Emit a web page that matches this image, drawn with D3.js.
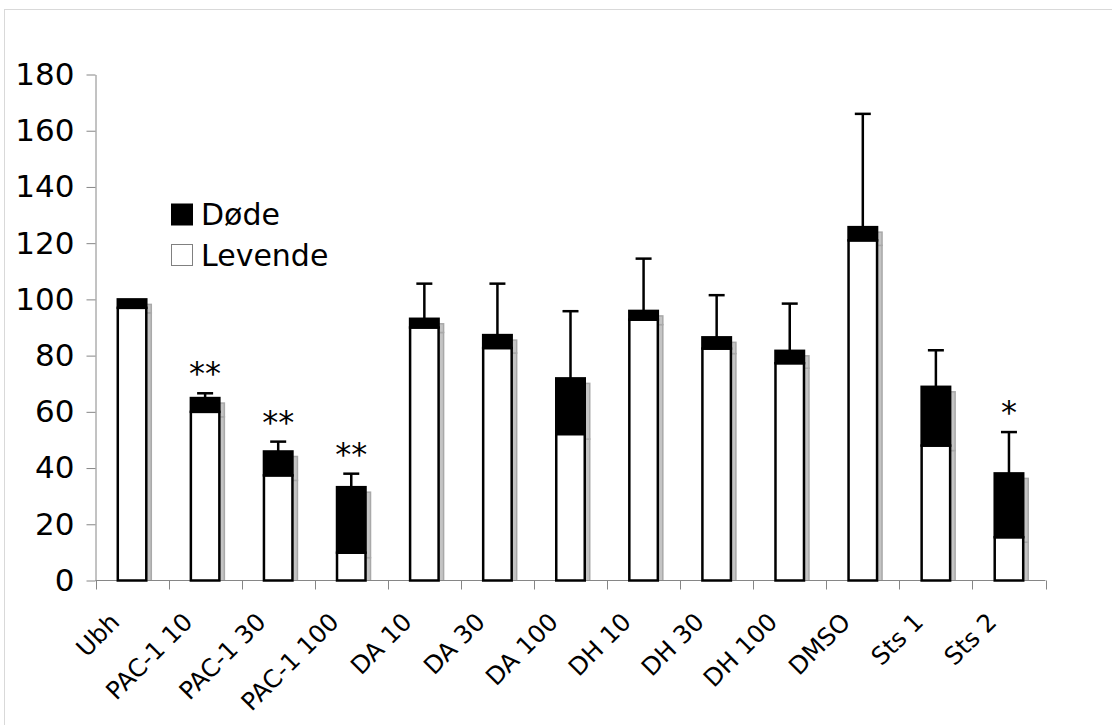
<!DOCTYPE html>
<html>
<head>
<meta charset="utf-8">
<script src="https://cdn.jsdelivr.net/npm/d3@7"></script>
<style>
  html, body { margin: 0; padding: 0; background: #fff; }
  svg { display: block; font-family: "DejaVu Sans", Verdana, sans-serif; }
</style>
</head>
<body>
<svg id="chart" width="1112" height="725"></svg>
<script>
// Cell counts per treatment (stacked: living + dead), with upper error bars
const categories = ["Ubh", "PAC-1 10", "PAC-1 30", "PAC-1 100", "DA 10", "DA 30", "DA 100",
                    "DH 10", "DH 30", "DH 100", "DMSO", "Sts 1", "Sts 2"];
const levende = [97, 60, 37.4, 9.9, 90, 82.7, 52.1, 92.8, 82.5, 77.3, 121, 48, 15.4];
const dode    = [3, 4.9, 8.5, 23.3, 3.1, 4.6, 19.8, 3.1, 4.0, 4.4, 4.7, 20.9, 22.7];
const errors  = [0, 1.7, 3.5, 4.8, 12.5, 18.3, 23.9, 18.6, 15.0, 16.8, 40.3, 13.0, 14.7];
const signif  = ["", "**", "**", "**", "", "", "", "", "", "", "", "", "*"];
const yTicks  = [0, 20, 40, 60, 80, 100, 120, 140, 160, 180];
const seriesNames = ["Døde", "Levende"];

const svg = d3.select("#chart");

// outer chart-area frame
svg.append("rect")
  .attr("x", 4.5).attr("y", 9.5).attr("width", 1200).attr("height", 800)
  .attr("fill", "none").attr("stroke", "#d9d9d9");

const x = d3.scaleBand().domain(categories).range([95.5, 1045.5]);
const y = d3.scaleLinear().domain([0, 180]).range([580.5, 74.5]);

const bw = x.bandwidth() * 0.39;
const cx = c => x(c) + x.bandwidth() / 2;

const rows = categories.map((c, i) => ({
  cat: c, live: levende[i], dead: dode[i], total: levende[i] + dode[i],
  err: errors[i], sig: signif[i]
}));

// shadows behind each stacked segment
const defs = svg.append("defs");
defs.append("clipPath").attr("id", "plotClip")
  .append("rect").attr("x", 0).attr("y", 0).attr("width", 1112).attr("height", y(0));
defs.append("filter").attr("id", "soft")
  .append("feGaussianBlur").attr("stdDeviation", 0.6);

const shadowG = svg.append("g").attr("clip-path", "url(#plotClip)")
  .attr("filter", "url(#soft)");
const sOff = 5;
rows.forEach(d => {
  shadowG.append("rect")
    .attr("x", cx(d.cat) - bw / 2 + sOff).attr("y", y(d.live) + sOff)
    .attr("width", bw).attr("height", y(0) - y(d.live))
    .attr("fill", "#c4c4c4").attr("stroke", "#a9a9a9").attr("stroke-width", 1.5);
  shadowG.append("rect")
    .attr("x", cx(d.cat) - bw / 2 + sOff).attr("y", y(d.total) + sOff)
    .attr("width", bw).attr("height", y(d.live) - y(d.total))
    .attr("fill", "#c4c4c4").attr("stroke", "#a9a9a9").attr("stroke-width", 1.5);
});

// axes
const yAxis = d3.axisLeft(y).tickValues(yTicks).tickSize(9).tickSizeOuter(0).tickPadding(12);
const gy = svg.append("g").attr("transform", "translate(95.5,0)").call(yAxis);
gy.select(".domain").attr("stroke", "#868686");
gy.selectAll(".tick line").attr("stroke", "#868686");
gy.selectAll(".tick text").attr("font-size", 31).attr("fill", "#000")
  .attr("font-family", "DejaVu Sans, Verdana, sans-serif");

const gx = svg.append("g").attr("transform", `translate(0,${y(0)})`);
gx.append("line").attr("x1", 95.5).attr("x2", 1045.5).attr("y1", 0).attr("y2", 0)
  .attr("stroke", "#868686");
const bounds = categories.map(c => x(c)).concat([x.range()[1]]);
gx.selectAll("line.bt").data(bounds).join("line").attr("class", "bt")
  .attr("x1", d => Math.round(d) + 0.5).attr("x2", d => Math.round(d) + 0.5)
  .attr("y1", 0).attr("y2", 9).attr("stroke", "#868686");
gx.selectAll("text.xl").data(categories).join("text").attr("class", "xl")
  .attr("transform", d => `translate(${cx(d) - 11},${43}) rotate(-45)`)
  .attr("text-anchor", "end").attr("font-size", 24.5).attr("fill", "#000")
  .text(d => d);

// stacked bars
const barG = svg.append("g");
rows.forEach(d => {
  barG.append("rect")
    .attr("x", cx(d.cat) - bw / 2).attr("y", y(d.live))
    .attr("width", bw).attr("height", y(0) - y(d.live))
    .attr("fill", "#fff").attr("stroke", "#000").attr("stroke-width", 2.5);
  barG.append("rect")
    .attr("x", cx(d.cat) - bw / 2).attr("y", y(d.total))
    .attr("width", bw).attr("height", y(d.live) - y(d.total))
    .attr("fill", "#000").attr("stroke", "#000").attr("stroke-width", 2.5);
});

// upper error bars
const errG = svg.append("g").attr("stroke", "#000").attr("stroke-width", 2.5);
rows.filter(d => d.err > 0).forEach(d => {
  const c = cx(d.cat);
  errG.append("line").attr("x1", c).attr("x2", c)
    .attr("y1", y(d.total)).attr("y2", y(d.total + d.err));
  errG.append("line").attr("x1", c - 8).attr("x2", c + 8)
    .attr("y1", y(d.total + d.err)).attr("y2", y(d.total + d.err));
});

// significance marks
svg.append("g").selectAll("text").data(rows.filter(d => d.sig)).join("text")
  .attr("x", d => cx(d.cat)).attr("y", d => y(d.total + d.err) - 9)
  .attr("text-anchor", "middle").attr("font-size", 32).attr("fill", "#000")
  .text(d => d.sig);

// legend
const lg = svg.append("g");
lg.append("rect").attr("x", 171).attr("y", 203.5).attr("width", 22).attr("height", 22)
  .attr("fill", "#000");
lg.append("rect").attr("x", 171.5).attr("y", 244.5).attr("width", 21).attr("height", 21)
  .attr("fill", "#fff").attr("stroke", "#808080");
lg.append("text").attr("x", 201).attr("y", 225).attr("font-size", 30).text(seriesNames[0]);
lg.append("text").attr("x", 201).attr("y", 266).attr("font-size", 30).text(seriesNames[1]);
</script>
</body>
</html>
